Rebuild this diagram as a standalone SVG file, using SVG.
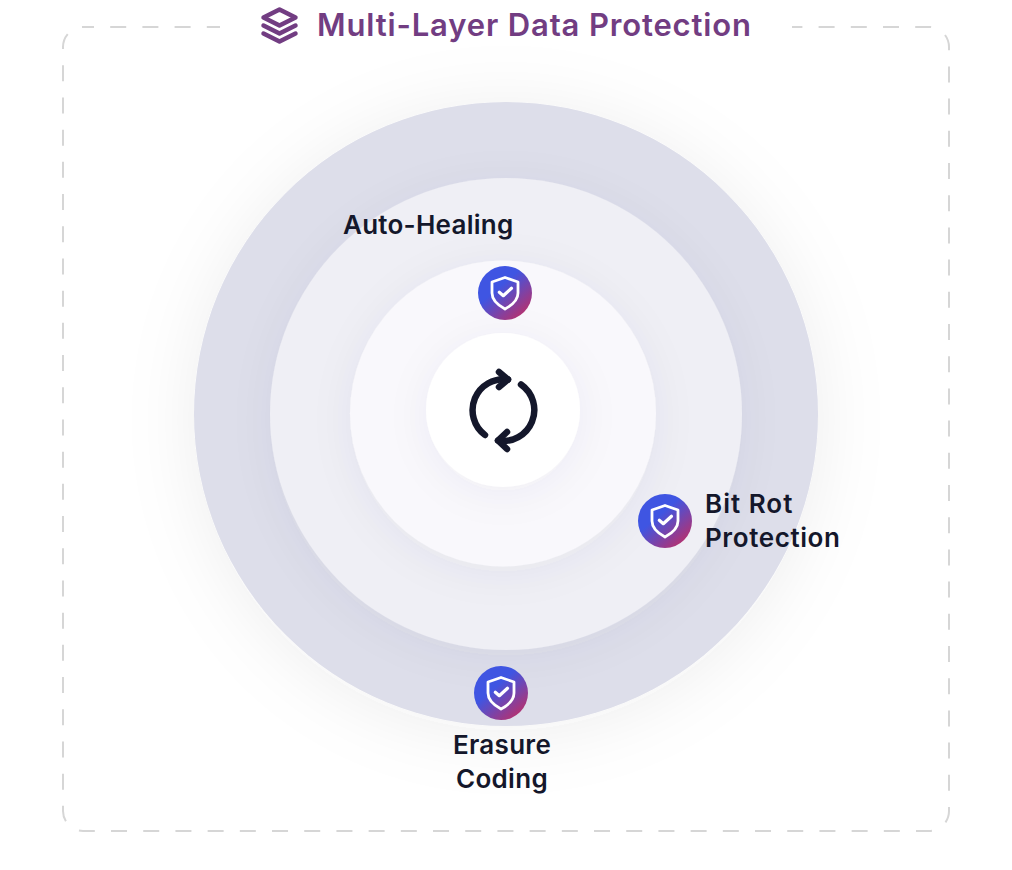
<svg xmlns="http://www.w3.org/2000/svg" width="1012" height="870" viewBox="0 0 1012 870">
<style>
text{font-family:Inter,"Liberation Sans",sans-serif;font-weight:600;fill:#14172b}
.lbl{font-size:26px}
.ttl{font-size:31px;fill:#723d82;letter-spacing:.85px}
.ic{fill:none;stroke:#fff;stroke-width:2.800;stroke-linecap:round;stroke-linejoin:round}
.ck{fill:none;stroke:#fff;stroke-width:3.200;stroke-linecap:round;stroke-linejoin:round}
.sync{fill:none;stroke:#14172b;stroke-width:6.500;stroke-linecap:round;stroke-linejoin:round}
.lay{fill:none;stroke:#723d82;stroke-width:4.500;stroke-linejoin:round;stroke-linecap:round}
</style>
<defs>
<linearGradient id="g" x1="0.2" y1="0.25" x2="0.8" y2="0.95"><stop offset="0.25" stop-color="#3f55e2"/><stop offset="1" stop-color="#b5316f"/></linearGradient>
<filter id="s1" x="-40%" y="-40%" width="180%" height="180%"><feDropShadow dx="0" dy="6" stdDeviation="36" flood-color="#404050" flood-opacity="0.07"/></filter>
<filter id="s2" x="-40%" y="-40%" width="180%" height="180%"><feDropShadow dx="0" dy="6" stdDeviation="20" flood-color="#404060" flood-opacity="0.055"/></filter>
<g id="badge"><circle r="27" fill="url(#g)"/><path class="ic" d="M0-15.500 13-11V0C13 8 6.500 12.500 0 16-6.500 12.500-13 8-13 0V-11Z"/><path class="ck" d="M-5.700-.7-1.700 2.700 6.500-4.700"/></g>
</defs>
<rect width="1012" height="870" fill="#fff"/>
<g id="frame"><path d="M83 27H929A20 20 0 0 1 949 47V811A20 20 0 0 1 929 831H83A20 20 0 0 1 63 811V47A20 20 0 0 1 83 27Z" fill="none" stroke="#d6d6d6" stroke-width="2" stroke-dasharray="16 16.200" stroke-dashoffset="5"/><rect x="220" y="15" width="572" height="24" fill="#fff"/></g>
<g id="title"><g transform="translate(279.500 25.500)"><path class="lay" d="M0-16 16-8 0 0-16-8Z"/><path class="lay" d="M-16 0 0 8 16 0"/><path class="lay" d="M-16 8 0 16 16 8"/></g><text class="ttl" x="317" y="36">Multi-Layer Data Protection</text></g>
<g id="rings">
<circle cx="506" cy="414" r="312" fill="#dddeea" filter="url(#s1)"/>
<circle cx="506" cy="414" r="236" fill="#efeff5" filter="url(#s2)"/>
<circle cx="503" cy="413.500" r="153" fill="#f9f8fc" filter="url(#s2)"/>
<circle cx="503" cy="410" r="77" fill="#fff" filter="url(#s2)"/>
</g>
<g id="sync"><path class="sync" d="M508 379.500A31 31 0 0 0 485 435"/><path class="sync" d="M499 372 508 379.500 499 387"/><path class="sync" d="M521 384.500A31 31 0 0 1 498 440.500"/><path class="sync" d="M507 432 498 440.500 507 449"/></g>
<g id="connectors"></g>
<g id="node-auto-healing"><use href="#badge" x="505" y="293"/><text class="lbl" x="343" y="234" letter-spacing=".25">Auto-Healing</text></g>
<g id="node-bit-rot"><use href="#badge" x="665" y="521"/><text class="lbl" x="705" y="513" letter-spacing="1">Bit Rot</text><text class="lbl" x="705" y="547" letter-spacing=".6">Protection</text></g>
<g id="node-erasure"><use href="#badge" x="501" y="693"/><text class="lbl" x="502" y="754" text-anchor="middle" letter-spacing=".3">Erasure</text><text class="lbl" x="502" y="788" text-anchor="middle" letter-spacing=".3">Coding</text></g>
</svg>
